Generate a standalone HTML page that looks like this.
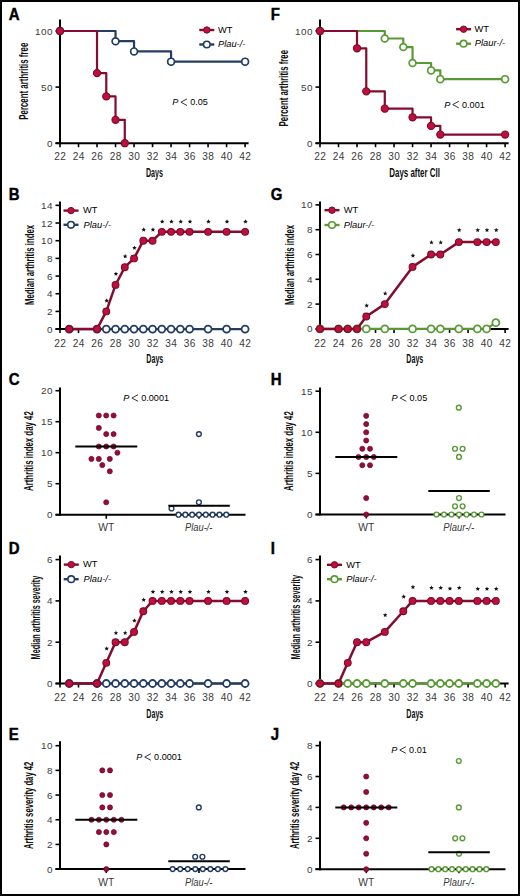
<!DOCTYPE html>
<html><head><meta charset="utf-8"><style>
html,body{margin:0;padding:0;background:#fff;}
body{width:520px;height:896px;overflow:hidden;}
svg{display:block;}
text{font-family:"Liberation Sans",sans-serif;}
</style></head><body>
<svg width="520" height="896" viewBox="0 0 520 896">
<rect width="520" height="896" fill="#fff"/>
<rect x="1" y="1" width="518" height="894" fill="none" stroke="#000" stroke-width="2"/>
<text transform="translate(8.7,19.7) scale(1,1.05)" font-size="15" font-weight="bold" fill="#000" stroke="#000" stroke-width="0.4">A</text>
<line x1="60" y1="19.5" x2="60" y2="144.2" stroke="#000" stroke-width="2" stroke-linecap="butt"/>
<line x1="55.5" y1="143.2" x2="60" y2="143.2" stroke="#000" stroke-width="1.6" stroke-linecap="butt"/>
<text x="52.85" y="146.74" font-size="9.9" text-anchor="end" fill="#3a3a3a" letter-spacing="0.45">0</text>
<line x1="55.5" y1="87.1" x2="60" y2="87.1" stroke="#000" stroke-width="1.6" stroke-linecap="butt"/>
<text x="52.85" y="90.64" font-size="9.9" text-anchor="end" fill="#3a3a3a" letter-spacing="0.45">50</text>
<line x1="55.5" y1="31" x2="60" y2="31" stroke="#000" stroke-width="1.6" stroke-linecap="butt"/>
<text x="52.85" y="34.54" font-size="9.9" text-anchor="end" fill="#3a3a3a" letter-spacing="0.45">100</text>
<line x1="55.5" y1="143.2" x2="248.6" y2="143.2" stroke="#000" stroke-width="2" stroke-linecap="butt"/>
<line x1="60" y1="143.2" x2="60" y2="147.2" stroke="#000" stroke-width="1.6" stroke-linecap="butt"/>
<text x="60.15" y="159.8" font-size="10.1" text-anchor="middle" fill="#3a3a3a" letter-spacing="0.3">22</text>
<line x1="78.51" y1="143.2" x2="78.51" y2="147.2" stroke="#000" stroke-width="1.6" stroke-linecap="butt"/>
<text x="78.66" y="159.8" font-size="10.1" text-anchor="middle" fill="#3a3a3a" letter-spacing="0.3">24</text>
<line x1="97.02" y1="143.2" x2="97.02" y2="147.2" stroke="#000" stroke-width="1.6" stroke-linecap="butt"/>
<text x="97.17" y="159.8" font-size="10.1" text-anchor="middle" fill="#3a3a3a" letter-spacing="0.3">26</text>
<line x1="115.53" y1="143.2" x2="115.53" y2="147.2" stroke="#000" stroke-width="1.6" stroke-linecap="butt"/>
<text x="115.68" y="159.8" font-size="10.1" text-anchor="middle" fill="#3a3a3a" letter-spacing="0.3">28</text>
<line x1="134.04" y1="143.2" x2="134.04" y2="147.2" stroke="#000" stroke-width="1.6" stroke-linecap="butt"/>
<text x="134.19" y="159.8" font-size="10.1" text-anchor="middle" fill="#3a3a3a" letter-spacing="0.3">30</text>
<line x1="152.55" y1="143.2" x2="152.55" y2="147.2" stroke="#000" stroke-width="1.6" stroke-linecap="butt"/>
<text x="152.7" y="159.8" font-size="10.1" text-anchor="middle" fill="#3a3a3a" letter-spacing="0.3">32</text>
<line x1="171.06" y1="143.2" x2="171.06" y2="147.2" stroke="#000" stroke-width="1.6" stroke-linecap="butt"/>
<text x="171.21" y="159.8" font-size="10.1" text-anchor="middle" fill="#3a3a3a" letter-spacing="0.3">34</text>
<line x1="189.57" y1="143.2" x2="189.57" y2="147.2" stroke="#000" stroke-width="1.6" stroke-linecap="butt"/>
<text x="189.72" y="159.8" font-size="10.1" text-anchor="middle" fill="#3a3a3a" letter-spacing="0.3">36</text>
<line x1="208.08" y1="143.2" x2="208.08" y2="147.2" stroke="#000" stroke-width="1.6" stroke-linecap="butt"/>
<text x="208.23" y="159.8" font-size="10.1" text-anchor="middle" fill="#3a3a3a" letter-spacing="0.3">38</text>
<line x1="226.59" y1="143.2" x2="226.59" y2="147.2" stroke="#000" stroke-width="1.6" stroke-linecap="butt"/>
<text x="226.74" y="159.8" font-size="10.1" text-anchor="middle" fill="#3a3a3a" letter-spacing="0.3">40</text>
<line x1="245.1" y1="143.2" x2="245.1" y2="147.2" stroke="#000" stroke-width="1.6" stroke-linecap="butt"/>
<text x="245.25" y="159.8" font-size="10.1" text-anchor="middle" fill="#3a3a3a" letter-spacing="0.3">42</text>
<polyline points="60,31 115.53,31 115.53,41.21 134.04,41.21 134.04,51.42 171.06,51.42 171.06,61.63 245.1,61.63 245.1,61.63" fill="none" stroke="#243d63" stroke-width="2.2" stroke-linejoin="round"/>
<circle cx="60" cy="31" r="3.4" fill="#fff" stroke="#243d63" stroke-width="1.7"/>
<circle cx="115.53" cy="41.21" r="3.4" fill="#fff" stroke="#243d63" stroke-width="1.7"/>
<circle cx="134.04" cy="51.42" r="3.4" fill="#fff" stroke="#243d63" stroke-width="1.7"/>
<circle cx="171.06" cy="61.63" r="3.4" fill="#fff" stroke="#243d63" stroke-width="1.7"/>
<circle cx="245.1" cy="61.63" r="3.4" fill="#fff" stroke="#243d63" stroke-width="1.7"/>
<polyline points="60,31 97.02,31 97.02,73.07 106.28,73.07 106.28,96.41 115.53,96.41 115.53,119.86 124.79,119.86 124.79,143.2" fill="none" stroke="#850b30" stroke-width="2.2" stroke-linejoin="round"/>
<circle cx="60" cy="31" r="3.6" fill="#bf0f3d" stroke="#7a0a2a" stroke-width="1.1"/>
<circle cx="97.02" cy="73.07" r="3.6" fill="#bf0f3d" stroke="#7a0a2a" stroke-width="1.1"/>
<circle cx="106.28" cy="96.41" r="3.6" fill="#bf0f3d" stroke="#7a0a2a" stroke-width="1.1"/>
<circle cx="115.53" cy="119.86" r="3.6" fill="#bf0f3d" stroke="#7a0a2a" stroke-width="1.1"/>
<circle cx="124.79" cy="143.2" r="3.6" fill="#bf0f3d" stroke="#7a0a2a" stroke-width="1.1"/>
<text transform="translate(28,81.2) rotate(-90)" font-size="12.2" text-anchor="middle" font-weight="bold" fill="#111" textLength="77" lengthAdjust="spacingAndGlyphs">Percent arthritis free</text>
<text x="154.4" y="176.5" font-size="12.2" text-anchor="middle" font-weight="bold" fill="#111" textLength="17" lengthAdjust="spacingAndGlyphs">Days</text>
<line x1="199.3" y1="30" x2="214.3" y2="30" stroke="#850b30" stroke-width="2.4" stroke-linecap="butt"/>
<circle cx="206.8" cy="30" r="3.2" fill="#bf0f3d" stroke="#7a0a2a" stroke-width="1"/>
<text x="218" y="32.75" font-size="9.3">WT</text>
<line x1="199.3" y1="44.5" x2="214.3" y2="44.5" stroke="#243d63" stroke-width="2.4" stroke-linecap="butt"/>
<circle cx="206.8" cy="44.5" r="3.3" fill="#fff" stroke="#243d63" stroke-width="1.6"/>
<text x="218" y="47.25" font-size="9.3" font-style="italic">Plau-/-</text>
<text x="172.3" y="105.4" font-size="9.1" font-style="italic">P</text>
<polyline points="187,98.9 180.9,102.2 187,105.5" fill="none" stroke="#2a2a2a" stroke-width="0.95"/>
<text x="190.2" y="105.4" font-size="9.1">0.05</text>
<text transform="translate(270.7,19.7) scale(1,1.05)" font-size="15" font-weight="bold" fill="#000" stroke="#000" stroke-width="0.4">F</text>
<line x1="320" y1="19.5" x2="320" y2="144.2" stroke="#000" stroke-width="2" stroke-linecap="butt"/>
<line x1="315.5" y1="143.2" x2="320" y2="143.2" stroke="#000" stroke-width="1.6" stroke-linecap="butt"/>
<text x="312.85" y="146.74" font-size="9.9" text-anchor="end" fill="#3a3a3a" letter-spacing="0.45">0</text>
<line x1="315.5" y1="87.1" x2="320" y2="87.1" stroke="#000" stroke-width="1.6" stroke-linecap="butt"/>
<text x="312.85" y="90.64" font-size="9.9" text-anchor="end" fill="#3a3a3a" letter-spacing="0.45">50</text>
<line x1="315.5" y1="31" x2="320" y2="31" stroke="#000" stroke-width="1.6" stroke-linecap="butt"/>
<text x="312.85" y="34.54" font-size="9.9" text-anchor="end" fill="#3a3a3a" letter-spacing="0.45">100</text>
<line x1="315.5" y1="143.2" x2="508.6" y2="143.2" stroke="#000" stroke-width="2" stroke-linecap="butt"/>
<line x1="320" y1="143.2" x2="320" y2="147.2" stroke="#000" stroke-width="1.6" stroke-linecap="butt"/>
<text x="320.15" y="159.8" font-size="10.1" text-anchor="middle" fill="#3a3a3a" letter-spacing="0.3">22</text>
<line x1="338.51" y1="143.2" x2="338.51" y2="147.2" stroke="#000" stroke-width="1.6" stroke-linecap="butt"/>
<text x="338.66" y="159.8" font-size="10.1" text-anchor="middle" fill="#3a3a3a" letter-spacing="0.3">24</text>
<line x1="357.02" y1="143.2" x2="357.02" y2="147.2" stroke="#000" stroke-width="1.6" stroke-linecap="butt"/>
<text x="357.17" y="159.8" font-size="10.1" text-anchor="middle" fill="#3a3a3a" letter-spacing="0.3">26</text>
<line x1="375.53" y1="143.2" x2="375.53" y2="147.2" stroke="#000" stroke-width="1.6" stroke-linecap="butt"/>
<text x="375.68" y="159.8" font-size="10.1" text-anchor="middle" fill="#3a3a3a" letter-spacing="0.3">28</text>
<line x1="394.04" y1="143.2" x2="394.04" y2="147.2" stroke="#000" stroke-width="1.6" stroke-linecap="butt"/>
<text x="394.19" y="159.8" font-size="10.1" text-anchor="middle" fill="#3a3a3a" letter-spacing="0.3">30</text>
<line x1="412.55" y1="143.2" x2="412.55" y2="147.2" stroke="#000" stroke-width="1.6" stroke-linecap="butt"/>
<text x="412.7" y="159.8" font-size="10.1" text-anchor="middle" fill="#3a3a3a" letter-spacing="0.3">32</text>
<line x1="431.06" y1="143.2" x2="431.06" y2="147.2" stroke="#000" stroke-width="1.6" stroke-linecap="butt"/>
<text x="431.21" y="159.8" font-size="10.1" text-anchor="middle" fill="#3a3a3a" letter-spacing="0.3">34</text>
<line x1="449.57" y1="143.2" x2="449.57" y2="147.2" stroke="#000" stroke-width="1.6" stroke-linecap="butt"/>
<text x="449.72" y="159.8" font-size="10.1" text-anchor="middle" fill="#3a3a3a" letter-spacing="0.3">36</text>
<line x1="468.08" y1="143.2" x2="468.08" y2="147.2" stroke="#000" stroke-width="1.6" stroke-linecap="butt"/>
<text x="468.23" y="159.8" font-size="10.1" text-anchor="middle" fill="#3a3a3a" letter-spacing="0.3">38</text>
<line x1="486.59" y1="143.2" x2="486.59" y2="147.2" stroke="#000" stroke-width="1.6" stroke-linecap="butt"/>
<text x="486.74" y="159.8" font-size="10.1" text-anchor="middle" fill="#3a3a3a" letter-spacing="0.3">40</text>
<line x1="505.1" y1="143.2" x2="505.1" y2="147.2" stroke="#000" stroke-width="1.6" stroke-linecap="butt"/>
<text x="505.25" y="159.8" font-size="10.1" text-anchor="middle" fill="#3a3a3a" letter-spacing="0.3">42</text>
<polyline points="320,31 384.79,31 384.79,38.52 403.3,38.52 403.3,47.04 412.55,47.04 412.55,62.98 431.06,62.98 431.06,70.38 440.31,70.38 440.31,79.13 505.1,79.13 505.1,79.13" fill="none" stroke="#5a9a36" stroke-width="2.2" stroke-linejoin="round"/>
<circle cx="320" cy="31" r="3.4" fill="#fff" stroke="#5a9a36" stroke-width="1.7"/>
<circle cx="384.79" cy="38.52" r="3.4" fill="#fff" stroke="#5a9a36" stroke-width="1.7"/>
<circle cx="403.3" cy="47.04" r="3.4" fill="#fff" stroke="#5a9a36" stroke-width="1.7"/>
<circle cx="412.55" cy="62.98" r="3.4" fill="#fff" stroke="#5a9a36" stroke-width="1.7"/>
<circle cx="431.06" cy="70.38" r="3.4" fill="#fff" stroke="#5a9a36" stroke-width="1.7"/>
<circle cx="440.31" cy="79.13" r="3.4" fill="#fff" stroke="#5a9a36" stroke-width="1.7"/>
<circle cx="505.1" cy="79.13" r="3.4" fill="#fff" stroke="#5a9a36" stroke-width="1.7"/>
<polyline points="320,31 357.02,31 357.02,48.28 366.27,48.28 366.27,91.36 384.79,91.36 384.79,108.64 412.55,108.64 412.55,117.28 431.06,117.28 431.06,125.92 440.31,125.92 440.31,134.56 505.1,134.56 505.1,134.56" fill="none" stroke="#850b30" stroke-width="2.2" stroke-linejoin="round"/>
<circle cx="320" cy="31" r="3.6" fill="#bf0f3d" stroke="#7a0a2a" stroke-width="1.1"/>
<circle cx="357.02" cy="48.28" r="3.6" fill="#bf0f3d" stroke="#7a0a2a" stroke-width="1.1"/>
<circle cx="366.27" cy="91.36" r="3.6" fill="#bf0f3d" stroke="#7a0a2a" stroke-width="1.1"/>
<circle cx="384.79" cy="108.64" r="3.6" fill="#bf0f3d" stroke="#7a0a2a" stroke-width="1.1"/>
<circle cx="412.55" cy="117.28" r="3.6" fill="#bf0f3d" stroke="#7a0a2a" stroke-width="1.1"/>
<circle cx="431.06" cy="125.92" r="3.6" fill="#bf0f3d" stroke="#7a0a2a" stroke-width="1.1"/>
<circle cx="440.31" cy="134.56" r="3.6" fill="#bf0f3d" stroke="#7a0a2a" stroke-width="1.1"/>
<circle cx="505.1" cy="134.56" r="3.6" fill="#bf0f3d" stroke="#7a0a2a" stroke-width="1.1"/>
<text transform="translate(288,88.2) rotate(-90)" font-size="12.2" text-anchor="middle" font-weight="bold" fill="#111" textLength="76.4" lengthAdjust="spacingAndGlyphs">Percent arthritis free</text>
<text x="414.6" y="176.5" font-size="12.2" text-anchor="middle" font-weight="bold" fill="#111" textLength="50.7" lengthAdjust="spacingAndGlyphs">Days after CII</text>
<line x1="456.1" y1="29.2" x2="471.1" y2="29.2" stroke="#850b30" stroke-width="2.4" stroke-linecap="butt"/>
<circle cx="463.6" cy="29.2" r="3.2" fill="#bf0f3d" stroke="#7a0a2a" stroke-width="1"/>
<text x="474.6" y="31.95" font-size="9.3">WT</text>
<line x1="456.1" y1="43.7" x2="471.1" y2="43.7" stroke="#5a9a36" stroke-width="2.4" stroke-linecap="butt"/>
<circle cx="463.6" cy="43.7" r="3.3" fill="#fff" stroke="#5a9a36" stroke-width="1.6"/>
<text x="474.8" y="46.45" font-size="9.3" font-style="italic">Plaur-/-</text>
<text x="444.3" y="107.8" font-size="9.1" font-style="italic">P</text>
<polyline points="458.8,101.3 452.7,104.6 458.8,107.9" fill="none" stroke="#2a2a2a" stroke-width="0.95"/>
<text x="462" y="107.8" font-size="9.1">0.001</text>
<text transform="translate(8.7,199.7) scale(1,1.05)" font-size="15" font-weight="bold" fill="#000" stroke="#000" stroke-width="0.4">B</text>
<line x1="60" y1="201.5" x2="60" y2="330.1" stroke="#000" stroke-width="2" stroke-linecap="butt"/>
<line x1="55.5" y1="329.1" x2="60" y2="329.1" stroke="#000" stroke-width="1.6" stroke-linecap="butt"/>
<text x="52.85" y="332.64" font-size="9.9" text-anchor="end" fill="#3a3a3a" letter-spacing="0.45">0</text>
<line x1="55.5" y1="311.42" x2="60" y2="311.42" stroke="#000" stroke-width="1.6" stroke-linecap="butt"/>
<text x="52.85" y="314.96" font-size="9.9" text-anchor="end" fill="#3a3a3a" letter-spacing="0.45">2</text>
<line x1="55.5" y1="293.74" x2="60" y2="293.74" stroke="#000" stroke-width="1.6" stroke-linecap="butt"/>
<text x="52.85" y="297.28" font-size="9.9" text-anchor="end" fill="#3a3a3a" letter-spacing="0.45">4</text>
<line x1="55.5" y1="276.06" x2="60" y2="276.06" stroke="#000" stroke-width="1.6" stroke-linecap="butt"/>
<text x="52.85" y="279.6" font-size="9.9" text-anchor="end" fill="#3a3a3a" letter-spacing="0.45">6</text>
<line x1="55.5" y1="258.38" x2="60" y2="258.38" stroke="#000" stroke-width="1.6" stroke-linecap="butt"/>
<text x="52.85" y="261.92" font-size="9.9" text-anchor="end" fill="#3a3a3a" letter-spacing="0.45">8</text>
<line x1="55.5" y1="240.7" x2="60" y2="240.7" stroke="#000" stroke-width="1.6" stroke-linecap="butt"/>
<text x="52.85" y="244.24" font-size="9.9" text-anchor="end" fill="#3a3a3a" letter-spacing="0.45">10</text>
<line x1="55.5" y1="223.02" x2="60" y2="223.02" stroke="#000" stroke-width="1.6" stroke-linecap="butt"/>
<text x="52.85" y="226.56" font-size="9.9" text-anchor="end" fill="#3a3a3a" letter-spacing="0.45">12</text>
<line x1="55.5" y1="205.34" x2="60" y2="205.34" stroke="#000" stroke-width="1.6" stroke-linecap="butt"/>
<text x="52.85" y="208.88" font-size="9.9" text-anchor="end" fill="#3a3a3a" letter-spacing="0.45">14</text>
<line x1="55.5" y1="329.1" x2="248.6" y2="329.1" stroke="#000" stroke-width="2" stroke-linecap="butt"/>
<line x1="60" y1="329.1" x2="60" y2="333.1" stroke="#000" stroke-width="1.6" stroke-linecap="butt"/>
<text x="60.15" y="346.6" font-size="10.1" text-anchor="middle" fill="#3a3a3a" letter-spacing="0.3">22</text>
<line x1="78.51" y1="329.1" x2="78.51" y2="333.1" stroke="#000" stroke-width="1.6" stroke-linecap="butt"/>
<text x="78.66" y="346.6" font-size="10.1" text-anchor="middle" fill="#3a3a3a" letter-spacing="0.3">24</text>
<line x1="97.02" y1="329.1" x2="97.02" y2="333.1" stroke="#000" stroke-width="1.6" stroke-linecap="butt"/>
<text x="97.17" y="346.6" font-size="10.1" text-anchor="middle" fill="#3a3a3a" letter-spacing="0.3">26</text>
<line x1="115.53" y1="329.1" x2="115.53" y2="333.1" stroke="#000" stroke-width="1.6" stroke-linecap="butt"/>
<text x="115.68" y="346.6" font-size="10.1" text-anchor="middle" fill="#3a3a3a" letter-spacing="0.3">28</text>
<line x1="134.04" y1="329.1" x2="134.04" y2="333.1" stroke="#000" stroke-width="1.6" stroke-linecap="butt"/>
<text x="134.19" y="346.6" font-size="10.1" text-anchor="middle" fill="#3a3a3a" letter-spacing="0.3">30</text>
<line x1="152.55" y1="329.1" x2="152.55" y2="333.1" stroke="#000" stroke-width="1.6" stroke-linecap="butt"/>
<text x="152.7" y="346.6" font-size="10.1" text-anchor="middle" fill="#3a3a3a" letter-spacing="0.3">32</text>
<line x1="171.06" y1="329.1" x2="171.06" y2="333.1" stroke="#000" stroke-width="1.6" stroke-linecap="butt"/>
<text x="171.21" y="346.6" font-size="10.1" text-anchor="middle" fill="#3a3a3a" letter-spacing="0.3">34</text>
<line x1="189.57" y1="329.1" x2="189.57" y2="333.1" stroke="#000" stroke-width="1.6" stroke-linecap="butt"/>
<text x="189.72" y="346.6" font-size="10.1" text-anchor="middle" fill="#3a3a3a" letter-spacing="0.3">36</text>
<line x1="208.08" y1="329.1" x2="208.08" y2="333.1" stroke="#000" stroke-width="1.6" stroke-linecap="butt"/>
<text x="208.23" y="346.6" font-size="10.1" text-anchor="middle" fill="#3a3a3a" letter-spacing="0.3">38</text>
<line x1="226.59" y1="329.1" x2="226.59" y2="333.1" stroke="#000" stroke-width="1.6" stroke-linecap="butt"/>
<text x="226.74" y="346.6" font-size="10.1" text-anchor="middle" fill="#3a3a3a" letter-spacing="0.3">40</text>
<line x1="245.1" y1="329.1" x2="245.1" y2="333.1" stroke="#000" stroke-width="1.6" stroke-linecap="butt"/>
<text x="245.25" y="346.6" font-size="10.1" text-anchor="middle" fill="#3a3a3a" letter-spacing="0.3">42</text>
<polyline points="69.25,329.1 97.02,329.1 106.28,329.1 115.53,329.1 124.79,329.1 134.04,329.1 143.3,329.1 152.55,329.1 161.81,329.1 171.06,329.1 180.31,329.1 189.57,329.1 208.08,329.1 226.59,329.1 245.1,329.1" fill="none" stroke="#243d63" stroke-width="2.2" stroke-linejoin="round"/>
<circle cx="69.25" cy="329.1" r="3.5" fill="#fff" stroke="#243d63" stroke-width="1.8"/>
<circle cx="97.02" cy="329.1" r="3.5" fill="#fff" stroke="#243d63" stroke-width="1.8"/>
<circle cx="106.28" cy="329.1" r="3.5" fill="#fff" stroke="#243d63" stroke-width="1.8"/>
<circle cx="115.53" cy="329.1" r="3.5" fill="#fff" stroke="#243d63" stroke-width="1.8"/>
<circle cx="124.79" cy="329.1" r="3.5" fill="#fff" stroke="#243d63" stroke-width="1.8"/>
<circle cx="134.04" cy="329.1" r="3.5" fill="#fff" stroke="#243d63" stroke-width="1.8"/>
<circle cx="143.3" cy="329.1" r="3.5" fill="#fff" stroke="#243d63" stroke-width="1.8"/>
<circle cx="152.55" cy="329.1" r="3.5" fill="#fff" stroke="#243d63" stroke-width="1.8"/>
<circle cx="161.81" cy="329.1" r="3.5" fill="#fff" stroke="#243d63" stroke-width="1.8"/>
<circle cx="171.06" cy="329.1" r="3.5" fill="#fff" stroke="#243d63" stroke-width="1.8"/>
<circle cx="180.31" cy="329.1" r="3.5" fill="#fff" stroke="#243d63" stroke-width="1.8"/>
<circle cx="189.57" cy="329.1" r="3.5" fill="#fff" stroke="#243d63" stroke-width="1.8"/>
<circle cx="208.08" cy="329.1" r="3.5" fill="#fff" stroke="#243d63" stroke-width="1.8"/>
<circle cx="226.59" cy="329.1" r="3.5" fill="#fff" stroke="#243d63" stroke-width="1.8"/>
<circle cx="245.1" cy="329.1" r="3.5" fill="#fff" stroke="#243d63" stroke-width="1.8"/>
<polyline points="69.25,329.1 97.02,329.1 106.28,311.42 115.53,284.9 124.79,267.22 134.04,258.38 143.3,240.7 152.55,240.7 161.81,231.86 171.06,231.86 180.31,231.86 189.57,231.86 208.08,231.86 226.59,231.86 245.1,231.86" fill="none" stroke="#850b30" stroke-width="2.5" stroke-linejoin="round"/>
<circle cx="69.25" cy="329.1" r="3.4" fill="#bf0f3d" stroke="#7a0a2a" stroke-width="1.1"/>
<circle cx="97.02" cy="329.1" r="3.4" fill="#bf0f3d" stroke="#7a0a2a" stroke-width="1.1"/>
<circle cx="106.28" cy="311.42" r="3.4" fill="#bf0f3d" stroke="#7a0a2a" stroke-width="1.1"/>
<circle cx="115.53" cy="284.9" r="3.4" fill="#bf0f3d" stroke="#7a0a2a" stroke-width="1.1"/>
<circle cx="124.79" cy="267.22" r="3.4" fill="#bf0f3d" stroke="#7a0a2a" stroke-width="1.1"/>
<circle cx="134.04" cy="258.38" r="3.4" fill="#bf0f3d" stroke="#7a0a2a" stroke-width="1.1"/>
<circle cx="143.3" cy="240.7" r="3.4" fill="#bf0f3d" stroke="#7a0a2a" stroke-width="1.1"/>
<circle cx="152.55" cy="240.7" r="3.4" fill="#bf0f3d" stroke="#7a0a2a" stroke-width="1.1"/>
<circle cx="161.81" cy="231.86" r="3.4" fill="#bf0f3d" stroke="#7a0a2a" stroke-width="1.1"/>
<circle cx="171.06" cy="231.86" r="3.4" fill="#bf0f3d" stroke="#7a0a2a" stroke-width="1.1"/>
<circle cx="180.31" cy="231.86" r="3.4" fill="#bf0f3d" stroke="#7a0a2a" stroke-width="1.1"/>
<circle cx="189.57" cy="231.86" r="3.4" fill="#bf0f3d" stroke="#7a0a2a" stroke-width="1.1"/>
<circle cx="208.08" cy="231.86" r="3.4" fill="#bf0f3d" stroke="#7a0a2a" stroke-width="1.1"/>
<circle cx="226.59" cy="231.86" r="3.4" fill="#bf0f3d" stroke="#7a0a2a" stroke-width="1.1"/>
<circle cx="245.1" cy="231.86" r="3.4" fill="#bf0f3d" stroke="#7a0a2a" stroke-width="1.1"/>
<polygon points="106.68,298.32 107.31,299.85 108.96,299.98 107.7,301.05 108.09,302.66 106.68,301.8 105.26,302.66 105.65,301.05 104.39,299.98 106.04,299.85" fill="#111"/>
<polygon points="115.93,271.5 116.56,273.03 118.21,273.16 116.96,274.23 117.34,275.84 115.93,274.98 114.52,275.84 114.9,274.23 113.65,273.16 115.3,273.03" fill="#111"/>
<polygon points="125.19,254.02 125.82,255.55 127.47,255.68 126.21,256.75 126.6,258.36 125.19,257.5 123.77,258.36 124.16,256.75 122.9,255.68 124.55,255.55" fill="#111"/>
<polygon points="134.44,245.48 135.07,247.01 136.72,247.14 135.47,248.21 135.85,249.82 134.44,248.96 133.03,249.82 133.41,248.21 132.16,247.14 133.81,247.01" fill="#111"/>
<polygon points="143.7,227.3 144.33,228.83 145.98,228.96 144.72,230.03 145.11,231.64 143.7,230.78 142.28,231.64 142.67,230.03 141.41,228.96 143.06,228.83" fill="#111"/>
<polygon points="152.95,227.3 153.58,228.83 155.23,228.96 153.98,230.03 154.36,231.64 152.95,230.78 151.54,231.64 151.92,230.03 150.67,228.96 152.32,228.83" fill="#111"/>
<polygon points="162.21,219.26 162.84,220.79 164.49,220.92 163.23,221.99 163.62,223.6 162.21,222.74 160.79,223.6 161.18,221.99 159.92,220.92 161.57,220.79" fill="#111"/>
<polygon points="171.46,219.26 172.09,220.79 173.74,220.92 172.49,221.99 172.87,223.6 171.46,222.74 170.05,223.6 170.43,221.99 169.18,220.92 170.83,220.79" fill="#111"/>
<polygon points="180.72,219.26 181.35,220.79 183,220.92 181.74,221.99 182.13,223.6 180.72,222.74 179.3,223.6 179.69,221.99 178.43,220.92 180.08,220.79" fill="#111"/>
<polygon points="189.97,219.26 190.6,220.79 192.25,220.92 191,221.99 191.38,223.6 189.97,222.74 188.56,223.6 188.94,221.99 187.69,220.92 189.34,220.79" fill="#111"/>
<polygon points="208.48,219.26 209.11,220.79 210.76,220.92 209.51,221.99 209.89,223.6 208.48,222.74 207.07,223.6 207.45,221.99 206.2,220.92 207.85,220.79" fill="#111"/>
<polygon points="226.99,219.26 227.62,220.79 229.27,220.92 228.02,221.99 228.4,223.6 226.99,222.74 225.58,223.6 225.96,221.99 224.71,220.92 226.36,220.79" fill="#111"/>
<polygon points="245.5,219.26 246.13,220.79 247.78,220.92 246.53,221.99 246.91,223.6 245.5,222.74 244.09,223.6 244.47,221.99 243.22,220.92 244.87,220.79" fill="#111"/>
<text transform="translate(34.2,265) rotate(-90)" font-size="12.2" text-anchor="middle" font-weight="bold" fill="#111" textLength="80" lengthAdjust="spacingAndGlyphs">Median arthritis index</text>
<text x="154.8" y="362.9" font-size="12.2" text-anchor="middle" font-weight="bold" fill="#111" textLength="17" lengthAdjust="spacingAndGlyphs">Days</text>
<line x1="63.5" y1="210.6" x2="78.5" y2="210.6" stroke="#850b30" stroke-width="2.4" stroke-linecap="butt"/>
<circle cx="71" cy="210.6" r="3.2" fill="#bf0f3d" stroke="#7a0a2a" stroke-width="1"/>
<text x="83" y="213.35" font-size="9.3">WT</text>
<line x1="63.5" y1="224.8" x2="78.5" y2="224.8" stroke="#243d63" stroke-width="2.4" stroke-linecap="butt"/>
<circle cx="71" cy="224.8" r="3.3" fill="#fff" stroke="#243d63" stroke-width="1.6"/>
<text x="83.6" y="227.55" font-size="9.3" font-style="italic">Plau-/-</text>
<text transform="translate(270.7,199.6) scale(1,1.05)" font-size="15" font-weight="bold" fill="#000" stroke="#000" stroke-width="0.4">G</text>
<line x1="320" y1="201.5" x2="320" y2="329.9" stroke="#000" stroke-width="2" stroke-linecap="butt"/>
<line x1="315.5" y1="328.9" x2="320" y2="328.9" stroke="#000" stroke-width="1.6" stroke-linecap="butt"/>
<text x="312.85" y="332.44" font-size="9.9" text-anchor="end" fill="#3a3a3a" letter-spacing="0.45">0</text>
<line x1="315.5" y1="304.1" x2="320" y2="304.1" stroke="#000" stroke-width="1.6" stroke-linecap="butt"/>
<text x="312.85" y="307.64" font-size="9.9" text-anchor="end" fill="#3a3a3a" letter-spacing="0.45">2</text>
<line x1="315.5" y1="279.3" x2="320" y2="279.3" stroke="#000" stroke-width="1.6" stroke-linecap="butt"/>
<text x="312.85" y="282.84" font-size="9.9" text-anchor="end" fill="#3a3a3a" letter-spacing="0.45">4</text>
<line x1="315.5" y1="254.5" x2="320" y2="254.5" stroke="#000" stroke-width="1.6" stroke-linecap="butt"/>
<text x="312.85" y="258.04" font-size="9.9" text-anchor="end" fill="#3a3a3a" letter-spacing="0.45">6</text>
<line x1="315.5" y1="229.7" x2="320" y2="229.7" stroke="#000" stroke-width="1.6" stroke-linecap="butt"/>
<text x="312.85" y="233.24" font-size="9.9" text-anchor="end" fill="#3a3a3a" letter-spacing="0.45">8</text>
<line x1="315.5" y1="204.9" x2="320" y2="204.9" stroke="#000" stroke-width="1.6" stroke-linecap="butt"/>
<text x="312.85" y="208.44" font-size="9.9" text-anchor="end" fill="#3a3a3a" letter-spacing="0.45">10</text>
<line x1="315.5" y1="328.9" x2="508.6" y2="328.9" stroke="#000" stroke-width="2" stroke-linecap="butt"/>
<line x1="320" y1="328.9" x2="320" y2="332.9" stroke="#000" stroke-width="1.6" stroke-linecap="butt"/>
<text x="320.15" y="346.6" font-size="10.1" text-anchor="middle" fill="#3a3a3a" letter-spacing="0.3">22</text>
<line x1="338.51" y1="328.9" x2="338.51" y2="332.9" stroke="#000" stroke-width="1.6" stroke-linecap="butt"/>
<text x="338.66" y="346.6" font-size="10.1" text-anchor="middle" fill="#3a3a3a" letter-spacing="0.3">24</text>
<line x1="357.02" y1="328.9" x2="357.02" y2="332.9" stroke="#000" stroke-width="1.6" stroke-linecap="butt"/>
<text x="357.17" y="346.6" font-size="10.1" text-anchor="middle" fill="#3a3a3a" letter-spacing="0.3">26</text>
<line x1="375.53" y1="328.9" x2="375.53" y2="332.9" stroke="#000" stroke-width="1.6" stroke-linecap="butt"/>
<text x="375.68" y="346.6" font-size="10.1" text-anchor="middle" fill="#3a3a3a" letter-spacing="0.3">28</text>
<line x1="394.04" y1="328.9" x2="394.04" y2="332.9" stroke="#000" stroke-width="1.6" stroke-linecap="butt"/>
<text x="394.19" y="346.6" font-size="10.1" text-anchor="middle" fill="#3a3a3a" letter-spacing="0.3">30</text>
<line x1="412.55" y1="328.9" x2="412.55" y2="332.9" stroke="#000" stroke-width="1.6" stroke-linecap="butt"/>
<text x="412.7" y="346.6" font-size="10.1" text-anchor="middle" fill="#3a3a3a" letter-spacing="0.3">32</text>
<line x1="431.06" y1="328.9" x2="431.06" y2="332.9" stroke="#000" stroke-width="1.6" stroke-linecap="butt"/>
<text x="431.21" y="346.6" font-size="10.1" text-anchor="middle" fill="#3a3a3a" letter-spacing="0.3">34</text>
<line x1="449.57" y1="328.9" x2="449.57" y2="332.9" stroke="#000" stroke-width="1.6" stroke-linecap="butt"/>
<text x="449.72" y="346.6" font-size="10.1" text-anchor="middle" fill="#3a3a3a" letter-spacing="0.3">36</text>
<line x1="468.08" y1="328.9" x2="468.08" y2="332.9" stroke="#000" stroke-width="1.6" stroke-linecap="butt"/>
<text x="468.23" y="346.6" font-size="10.1" text-anchor="middle" fill="#3a3a3a" letter-spacing="0.3">38</text>
<line x1="486.59" y1="328.9" x2="486.59" y2="332.9" stroke="#000" stroke-width="1.6" stroke-linecap="butt"/>
<text x="486.74" y="346.6" font-size="10.1" text-anchor="middle" fill="#3a3a3a" letter-spacing="0.3">40</text>
<line x1="505.1" y1="328.9" x2="505.1" y2="332.9" stroke="#000" stroke-width="1.6" stroke-linecap="butt"/>
<text x="505.25" y="346.6" font-size="10.1" text-anchor="middle" fill="#3a3a3a" letter-spacing="0.3">42</text>
<polyline points="320,328.9 338.51,328.9 347.76,328.9 357.02,328.9 366.27,328.9 384.79,328.9 412.55,328.9 431.06,328.9 440.31,328.9 458.83,328.9 477.34,328.9 486.59,328.9 495.85,322.7" fill="none" stroke="#5a9a36" stroke-width="2.2" stroke-linejoin="round"/>
<circle cx="320" cy="328.9" r="3.5" fill="#fff" stroke="#5a9a36" stroke-width="1.8"/>
<circle cx="338.51" cy="328.9" r="3.5" fill="#fff" stroke="#5a9a36" stroke-width="1.8"/>
<circle cx="347.76" cy="328.9" r="3.5" fill="#fff" stroke="#5a9a36" stroke-width="1.8"/>
<circle cx="357.02" cy="328.9" r="3.5" fill="#fff" stroke="#5a9a36" stroke-width="1.8"/>
<circle cx="366.27" cy="328.9" r="3.5" fill="#fff" stroke="#5a9a36" stroke-width="1.8"/>
<circle cx="384.79" cy="328.9" r="3.5" fill="#fff" stroke="#5a9a36" stroke-width="1.8"/>
<circle cx="412.55" cy="328.9" r="3.5" fill="#fff" stroke="#5a9a36" stroke-width="1.8"/>
<circle cx="431.06" cy="328.9" r="3.5" fill="#fff" stroke="#5a9a36" stroke-width="1.8"/>
<circle cx="440.31" cy="328.9" r="3.5" fill="#fff" stroke="#5a9a36" stroke-width="1.8"/>
<circle cx="458.83" cy="328.9" r="3.5" fill="#fff" stroke="#5a9a36" stroke-width="1.8"/>
<circle cx="477.34" cy="328.9" r="3.5" fill="#fff" stroke="#5a9a36" stroke-width="1.8"/>
<circle cx="486.59" cy="328.9" r="3.5" fill="#fff" stroke="#5a9a36" stroke-width="1.8"/>
<circle cx="495.85" cy="322.7" r="3.5" fill="#fff" stroke="#5a9a36" stroke-width="1.8"/>
<polyline points="320,328.9 338.51,328.9 347.76,328.9 357.02,328.9 366.27,316.5 384.79,304.1 412.55,266.9 431.06,254.5 440.31,254.5 458.83,242.1 477.34,242.1 486.59,242.1 495.85,242.1" fill="none" stroke="#850b30" stroke-width="2.5" stroke-linejoin="round"/>
<circle cx="320" cy="328.9" r="3.4" fill="#bf0f3d" stroke="#7a0a2a" stroke-width="1.1"/>
<circle cx="338.51" cy="328.9" r="3.4" fill="#bf0f3d" stroke="#7a0a2a" stroke-width="1.1"/>
<circle cx="347.76" cy="328.9" r="3.4" fill="#bf0f3d" stroke="#7a0a2a" stroke-width="1.1"/>
<circle cx="357.02" cy="328.9" r="3.4" fill="#bf0f3d" stroke="#7a0a2a" stroke-width="1.1"/>
<circle cx="366.27" cy="316.5" r="3.4" fill="#bf0f3d" stroke="#7a0a2a" stroke-width="1.1"/>
<circle cx="384.79" cy="304.1" r="3.4" fill="#bf0f3d" stroke="#7a0a2a" stroke-width="1.1"/>
<circle cx="412.55" cy="266.9" r="3.4" fill="#bf0f3d" stroke="#7a0a2a" stroke-width="1.1"/>
<circle cx="431.06" cy="254.5" r="3.4" fill="#bf0f3d" stroke="#7a0a2a" stroke-width="1.1"/>
<circle cx="440.31" cy="254.5" r="3.4" fill="#bf0f3d" stroke="#7a0a2a" stroke-width="1.1"/>
<circle cx="458.83" cy="242.1" r="3.4" fill="#bf0f3d" stroke="#7a0a2a" stroke-width="1.1"/>
<circle cx="477.34" cy="242.1" r="3.4" fill="#bf0f3d" stroke="#7a0a2a" stroke-width="1.1"/>
<circle cx="486.59" cy="242.1" r="3.4" fill="#bf0f3d" stroke="#7a0a2a" stroke-width="1.1"/>
<circle cx="495.85" cy="242.1" r="3.4" fill="#bf0f3d" stroke="#7a0a2a" stroke-width="1.1"/>
<polygon points="366.67,303.2 367.31,304.73 368.96,304.86 367.7,305.93 368.09,307.54 366.67,306.68 365.26,307.54 365.65,305.93 364.39,304.86 366.04,304.73" fill="#111"/>
<polygon points="385.19,291.1 385.82,292.63 387.47,292.76 386.21,293.83 386.6,295.44 385.19,294.58 383.77,295.44 384.16,293.83 382.9,292.76 384.55,292.63" fill="#111"/>
<polygon points="412.95,253.3 413.58,254.83 415.23,254.96 413.98,256.03 414.36,257.64 412.95,256.78 411.54,257.64 411.92,256.03 410.67,254.96 412.32,254.83" fill="#111"/>
<polygon points="431.46,240.1 432.09,241.63 433.74,241.76 432.49,242.83 432.87,244.44 431.46,243.58 430.05,244.44 430.43,242.83 429.18,241.76 430.83,241.63" fill="#111"/>
<polygon points="440.71,240.1 441.35,241.63 443,241.76 441.74,242.83 442.13,244.44 440.71,243.58 439.3,244.44 439.69,242.83 438.43,241.76 440.08,241.63" fill="#111"/>
<polygon points="459.23,227.7 459.86,229.23 461.51,229.36 460.25,230.43 460.64,232.04 459.23,231.18 457.81,232.04 458.2,230.43 456.94,229.36 458.59,229.23" fill="#111"/>
<polygon points="477.74,227.7 478.37,229.23 480.02,229.36 478.76,230.43 479.15,232.04 477.74,231.18 476.32,232.04 476.71,230.43 475.45,229.36 477.1,229.23" fill="#111"/>
<polygon points="486.99,227.7 487.62,229.23 489.27,229.36 488.02,230.43 488.4,232.04 486.99,231.18 485.58,232.04 485.96,230.43 484.71,229.36 486.36,229.23" fill="#111"/>
<polygon points="496.25,227.7 496.88,229.23 498.53,229.36 497.27,230.43 497.66,232.04 496.25,231.18 494.83,232.04 495.22,230.43 493.96,229.36 495.61,229.23" fill="#111"/>
<text transform="translate(294.2,265) rotate(-90)" font-size="12.2" text-anchor="middle" font-weight="bold" fill="#111" textLength="80" lengthAdjust="spacingAndGlyphs">Median arthritis index</text>
<text x="414.8" y="363" font-size="12.2" text-anchor="middle" font-weight="bold" fill="#111" textLength="17" lengthAdjust="spacingAndGlyphs">Days</text>
<line x1="324.5" y1="210.2" x2="339.5" y2="210.2" stroke="#850b30" stroke-width="2.4" stroke-linecap="butt"/>
<circle cx="332" cy="210.2" r="3.2" fill="#bf0f3d" stroke="#7a0a2a" stroke-width="1"/>
<text x="343.8" y="212.95" font-size="9.3">WT</text>
<line x1="324.5" y1="225" x2="339.5" y2="225" stroke="#5a9a36" stroke-width="2.4" stroke-linecap="butt"/>
<circle cx="332" cy="225" r="3.3" fill="#fff" stroke="#5a9a36" stroke-width="1.6"/>
<text x="343.8" y="227.75" font-size="9.3" font-style="italic">Plaur-/-</text>
<text transform="translate(8.7,553.9) scale(1,1.05)" font-size="15" font-weight="bold" fill="#000" stroke="#000" stroke-width="0.4">D</text>
<line x1="60" y1="555.5" x2="60" y2="684.5" stroke="#000" stroke-width="2" stroke-linecap="butt"/>
<line x1="55.5" y1="683.5" x2="60" y2="683.5" stroke="#000" stroke-width="1.6" stroke-linecap="butt"/>
<text x="52.85" y="687.04" font-size="9.9" text-anchor="end" fill="#3a3a3a" letter-spacing="0.45">0</text>
<line x1="55.5" y1="642.2" x2="60" y2="642.2" stroke="#000" stroke-width="1.6" stroke-linecap="butt"/>
<text x="52.85" y="645.74" font-size="9.9" text-anchor="end" fill="#3a3a3a" letter-spacing="0.45">2</text>
<line x1="55.5" y1="600.9" x2="60" y2="600.9" stroke="#000" stroke-width="1.6" stroke-linecap="butt"/>
<text x="52.85" y="604.44" font-size="9.9" text-anchor="end" fill="#3a3a3a" letter-spacing="0.45">4</text>
<line x1="55.5" y1="559.6" x2="60" y2="559.6" stroke="#000" stroke-width="1.6" stroke-linecap="butt"/>
<text x="52.85" y="563.14" font-size="9.9" text-anchor="end" fill="#3a3a3a" letter-spacing="0.45">6</text>
<line x1="55.5" y1="683.5" x2="248.6" y2="683.5" stroke="#000" stroke-width="2" stroke-linecap="butt"/>
<line x1="60" y1="683.5" x2="60" y2="687.5" stroke="#000" stroke-width="1.6" stroke-linecap="butt"/>
<text x="60.15" y="701.2" font-size="10.1" text-anchor="middle" fill="#3a3a3a" letter-spacing="0.3">22</text>
<line x1="78.51" y1="683.5" x2="78.51" y2="687.5" stroke="#000" stroke-width="1.6" stroke-linecap="butt"/>
<text x="78.66" y="701.2" font-size="10.1" text-anchor="middle" fill="#3a3a3a" letter-spacing="0.3">24</text>
<line x1="97.02" y1="683.5" x2="97.02" y2="687.5" stroke="#000" stroke-width="1.6" stroke-linecap="butt"/>
<text x="97.17" y="701.2" font-size="10.1" text-anchor="middle" fill="#3a3a3a" letter-spacing="0.3">26</text>
<line x1="115.53" y1="683.5" x2="115.53" y2="687.5" stroke="#000" stroke-width="1.6" stroke-linecap="butt"/>
<text x="115.68" y="701.2" font-size="10.1" text-anchor="middle" fill="#3a3a3a" letter-spacing="0.3">28</text>
<line x1="134.04" y1="683.5" x2="134.04" y2="687.5" stroke="#000" stroke-width="1.6" stroke-linecap="butt"/>
<text x="134.19" y="701.2" font-size="10.1" text-anchor="middle" fill="#3a3a3a" letter-spacing="0.3">30</text>
<line x1="152.55" y1="683.5" x2="152.55" y2="687.5" stroke="#000" stroke-width="1.6" stroke-linecap="butt"/>
<text x="152.7" y="701.2" font-size="10.1" text-anchor="middle" fill="#3a3a3a" letter-spacing="0.3">32</text>
<line x1="171.06" y1="683.5" x2="171.06" y2="687.5" stroke="#000" stroke-width="1.6" stroke-linecap="butt"/>
<text x="171.21" y="701.2" font-size="10.1" text-anchor="middle" fill="#3a3a3a" letter-spacing="0.3">34</text>
<line x1="189.57" y1="683.5" x2="189.57" y2="687.5" stroke="#000" stroke-width="1.6" stroke-linecap="butt"/>
<text x="189.72" y="701.2" font-size="10.1" text-anchor="middle" fill="#3a3a3a" letter-spacing="0.3">36</text>
<line x1="208.08" y1="683.5" x2="208.08" y2="687.5" stroke="#000" stroke-width="1.6" stroke-linecap="butt"/>
<text x="208.23" y="701.2" font-size="10.1" text-anchor="middle" fill="#3a3a3a" letter-spacing="0.3">38</text>
<line x1="226.59" y1="683.5" x2="226.59" y2="687.5" stroke="#000" stroke-width="1.6" stroke-linecap="butt"/>
<text x="226.74" y="701.2" font-size="10.1" text-anchor="middle" fill="#3a3a3a" letter-spacing="0.3">40</text>
<line x1="245.1" y1="683.5" x2="245.1" y2="687.5" stroke="#000" stroke-width="1.6" stroke-linecap="butt"/>
<text x="245.25" y="701.2" font-size="10.1" text-anchor="middle" fill="#3a3a3a" letter-spacing="0.3">42</text>
<polyline points="69.25,683.5 97.02,683.5 106.28,683.5 115.53,683.5 124.79,683.5 134.04,683.5 143.3,683.5 152.55,683.5 161.81,683.5 171.06,683.5 180.31,683.5 189.57,683.5 208.08,683.5 226.59,683.5 245.1,683.5" fill="none" stroke="#243d63" stroke-width="2.2" stroke-linejoin="round"/>
<circle cx="69.25" cy="683.5" r="3.5" fill="#fff" stroke="#243d63" stroke-width="1.8"/>
<circle cx="97.02" cy="683.5" r="3.5" fill="#fff" stroke="#243d63" stroke-width="1.8"/>
<circle cx="106.28" cy="683.5" r="3.5" fill="#fff" stroke="#243d63" stroke-width="1.8"/>
<circle cx="115.53" cy="683.5" r="3.5" fill="#fff" stroke="#243d63" stroke-width="1.8"/>
<circle cx="124.79" cy="683.5" r="3.5" fill="#fff" stroke="#243d63" stroke-width="1.8"/>
<circle cx="134.04" cy="683.5" r="3.5" fill="#fff" stroke="#243d63" stroke-width="1.8"/>
<circle cx="143.3" cy="683.5" r="3.5" fill="#fff" stroke="#243d63" stroke-width="1.8"/>
<circle cx="152.55" cy="683.5" r="3.5" fill="#fff" stroke="#243d63" stroke-width="1.8"/>
<circle cx="161.81" cy="683.5" r="3.5" fill="#fff" stroke="#243d63" stroke-width="1.8"/>
<circle cx="171.06" cy="683.5" r="3.5" fill="#fff" stroke="#243d63" stroke-width="1.8"/>
<circle cx="180.31" cy="683.5" r="3.5" fill="#fff" stroke="#243d63" stroke-width="1.8"/>
<circle cx="189.57" cy="683.5" r="3.5" fill="#fff" stroke="#243d63" stroke-width="1.8"/>
<circle cx="208.08" cy="683.5" r="3.5" fill="#fff" stroke="#243d63" stroke-width="1.8"/>
<circle cx="226.59" cy="683.5" r="3.5" fill="#fff" stroke="#243d63" stroke-width="1.8"/>
<circle cx="245.1" cy="683.5" r="3.5" fill="#fff" stroke="#243d63" stroke-width="1.8"/>
<polyline points="69.25,683.5 97.02,683.5 106.28,662.85 115.53,642.2 124.79,642.2 134.04,631.88 143.3,611.23 152.55,600.9 161.81,600.9 171.06,600.9 180.31,600.9 189.57,600.9 208.08,600.9 226.59,600.9 245.1,600.9" fill="none" stroke="#850b30" stroke-width="2.5" stroke-linejoin="round"/>
<circle cx="69.25" cy="683.5" r="3.4" fill="#bf0f3d" stroke="#7a0a2a" stroke-width="1.1"/>
<circle cx="97.02" cy="683.5" r="3.4" fill="#bf0f3d" stroke="#7a0a2a" stroke-width="1.1"/>
<circle cx="106.28" cy="662.85" r="3.4" fill="#bf0f3d" stroke="#7a0a2a" stroke-width="1.1"/>
<circle cx="115.53" cy="642.2" r="3.4" fill="#bf0f3d" stroke="#7a0a2a" stroke-width="1.1"/>
<circle cx="124.79" cy="642.2" r="3.4" fill="#bf0f3d" stroke="#7a0a2a" stroke-width="1.1"/>
<circle cx="134.04" cy="631.88" r="3.4" fill="#bf0f3d" stroke="#7a0a2a" stroke-width="1.1"/>
<circle cx="143.3" cy="611.23" r="3.4" fill="#bf0f3d" stroke="#7a0a2a" stroke-width="1.1"/>
<circle cx="152.55" cy="600.9" r="3.4" fill="#bf0f3d" stroke="#7a0a2a" stroke-width="1.1"/>
<circle cx="161.81" cy="600.9" r="3.4" fill="#bf0f3d" stroke="#7a0a2a" stroke-width="1.1"/>
<circle cx="171.06" cy="600.9" r="3.4" fill="#bf0f3d" stroke="#7a0a2a" stroke-width="1.1"/>
<circle cx="180.31" cy="600.9" r="3.4" fill="#bf0f3d" stroke="#7a0a2a" stroke-width="1.1"/>
<circle cx="189.57" cy="600.9" r="3.4" fill="#bf0f3d" stroke="#7a0a2a" stroke-width="1.1"/>
<circle cx="208.08" cy="600.9" r="3.4" fill="#bf0f3d" stroke="#7a0a2a" stroke-width="1.1"/>
<circle cx="226.59" cy="600.9" r="3.4" fill="#bf0f3d" stroke="#7a0a2a" stroke-width="1.1"/>
<circle cx="245.1" cy="600.9" r="3.4" fill="#bf0f3d" stroke="#7a0a2a" stroke-width="1.1"/>
<polygon points="106.68,646.15 107.31,647.68 108.96,647.81 107.7,648.88 108.09,650.49 106.68,649.63 105.26,650.49 105.65,648.88 104.39,647.81 106.04,647.68" fill="#111"/>
<polygon points="115.93,630.6 116.56,632.13 118.21,632.26 116.96,633.33 117.34,634.94 115.93,634.08 114.52,634.94 114.9,633.33 113.65,632.26 115.3,632.13" fill="#111"/>
<polygon points="125.19,630.6 125.82,632.13 127.47,632.26 126.21,633.33 126.6,634.94 125.19,634.08 123.77,634.94 124.16,633.33 122.9,632.26 124.55,632.13" fill="#111"/>
<polygon points="134.44,618.27 135.07,619.8 136.72,619.93 135.47,621.01 135.85,622.62 134.44,621.75 133.03,622.62 133.41,621.01 132.16,619.93 133.81,619.8" fill="#111"/>
<polygon points="143.7,597.53 144.33,599.05 145.98,599.18 144.72,600.26 145.11,601.87 143.7,601.01 142.28,601.87 142.67,600.26 141.41,599.18 143.06,599.05" fill="#111"/>
<polygon points="152.95,589.4 153.58,590.93 155.23,591.06 153.98,592.13 154.36,593.74 152.95,592.88 151.54,593.74 151.92,592.13 150.67,591.06 152.32,590.93" fill="#111"/>
<polygon points="162.21,589.4 162.84,590.93 164.49,591.06 163.23,592.13 163.62,593.74 162.21,592.88 160.79,593.74 161.18,592.13 159.92,591.06 161.57,590.93" fill="#111"/>
<polygon points="171.46,589.4 172.09,590.93 173.74,591.06 172.49,592.13 172.87,593.74 171.46,592.88 170.05,593.74 170.43,592.13 169.18,591.06 170.83,590.93" fill="#111"/>
<polygon points="180.72,589.4 181.35,590.93 183,591.06 181.74,592.13 182.13,593.74 180.72,592.88 179.3,593.74 179.69,592.13 178.43,591.06 180.08,590.93" fill="#111"/>
<polygon points="189.97,589.4 190.6,590.93 192.25,591.06 191,592.13 191.38,593.74 189.97,592.88 188.56,593.74 188.94,592.13 187.69,591.06 189.34,590.93" fill="#111"/>
<polygon points="208.48,589.4 209.11,590.93 210.76,591.06 209.51,592.13 209.89,593.74 208.48,592.88 207.07,593.74 207.45,592.13 206.2,591.06 207.85,590.93" fill="#111"/>
<polygon points="226.99,589.4 227.62,590.93 229.27,591.06 228.02,592.13 228.4,593.74 226.99,592.88 225.58,593.74 225.96,592.13 224.71,591.06 226.36,590.93" fill="#111"/>
<polygon points="245.5,589.4 246.13,590.93 247.78,591.06 246.53,592.13 246.91,593.74 245.5,592.88 244.09,593.74 244.47,592.13 243.22,591.06 244.87,590.93" fill="#111"/>
<text transform="translate(39.8,617.6) rotate(-90)" font-size="12.2" text-anchor="middle" font-weight="bold" fill="#111" textLength="83.6" lengthAdjust="spacingAndGlyphs">Median arthritis severity</text>
<text x="154.8" y="717.8" font-size="12.2" text-anchor="middle" font-weight="bold" fill="#111" textLength="17" lengthAdjust="spacingAndGlyphs">Days</text>
<line x1="63.8" y1="564.6" x2="78.8" y2="564.6" stroke="#850b30" stroke-width="2.4" stroke-linecap="butt"/>
<circle cx="71.3" cy="564.6" r="3.2" fill="#bf0f3d" stroke="#7a0a2a" stroke-width="1"/>
<text x="83" y="567.35" font-size="9.3">WT</text>
<line x1="63.7" y1="579.2" x2="78.7" y2="579.2" stroke="#243d63" stroke-width="2.4" stroke-linecap="butt"/>
<circle cx="71.2" cy="579.2" r="3.3" fill="#fff" stroke="#243d63" stroke-width="1.6"/>
<text x="83.6" y="581.95" font-size="9.3" font-style="italic">Plau-/-</text>
<text transform="translate(270.7,553.9) scale(1,1.05)" font-size="15" font-weight="bold" fill="#000" stroke="#000" stroke-width="0.4">I</text>
<line x1="320" y1="555.5" x2="320" y2="684.5" stroke="#000" stroke-width="2" stroke-linecap="butt"/>
<line x1="315.5" y1="683.5" x2="320" y2="683.5" stroke="#000" stroke-width="1.6" stroke-linecap="butt"/>
<text x="312.85" y="687.04" font-size="9.9" text-anchor="end" fill="#3a3a3a" letter-spacing="0.45">0</text>
<line x1="315.5" y1="642.2" x2="320" y2="642.2" stroke="#000" stroke-width="1.6" stroke-linecap="butt"/>
<text x="312.85" y="645.74" font-size="9.9" text-anchor="end" fill="#3a3a3a" letter-spacing="0.45">2</text>
<line x1="315.5" y1="600.9" x2="320" y2="600.9" stroke="#000" stroke-width="1.6" stroke-linecap="butt"/>
<text x="312.85" y="604.44" font-size="9.9" text-anchor="end" fill="#3a3a3a" letter-spacing="0.45">4</text>
<line x1="315.5" y1="559.6" x2="320" y2="559.6" stroke="#000" stroke-width="1.6" stroke-linecap="butt"/>
<text x="312.85" y="563.14" font-size="9.9" text-anchor="end" fill="#3a3a3a" letter-spacing="0.45">6</text>
<line x1="315.5" y1="683.5" x2="508.6" y2="683.5" stroke="#000" stroke-width="2" stroke-linecap="butt"/>
<line x1="320" y1="683.5" x2="320" y2="687.5" stroke="#000" stroke-width="1.6" stroke-linecap="butt"/>
<text x="320.15" y="701.2" font-size="10.1" text-anchor="middle" fill="#3a3a3a" letter-spacing="0.3">22</text>
<line x1="338.51" y1="683.5" x2="338.51" y2="687.5" stroke="#000" stroke-width="1.6" stroke-linecap="butt"/>
<text x="338.66" y="701.2" font-size="10.1" text-anchor="middle" fill="#3a3a3a" letter-spacing="0.3">24</text>
<line x1="357.02" y1="683.5" x2="357.02" y2="687.5" stroke="#000" stroke-width="1.6" stroke-linecap="butt"/>
<text x="357.17" y="701.2" font-size="10.1" text-anchor="middle" fill="#3a3a3a" letter-spacing="0.3">26</text>
<line x1="375.53" y1="683.5" x2="375.53" y2="687.5" stroke="#000" stroke-width="1.6" stroke-linecap="butt"/>
<text x="375.68" y="701.2" font-size="10.1" text-anchor="middle" fill="#3a3a3a" letter-spacing="0.3">28</text>
<line x1="394.04" y1="683.5" x2="394.04" y2="687.5" stroke="#000" stroke-width="1.6" stroke-linecap="butt"/>
<text x="394.19" y="701.2" font-size="10.1" text-anchor="middle" fill="#3a3a3a" letter-spacing="0.3">30</text>
<line x1="412.55" y1="683.5" x2="412.55" y2="687.5" stroke="#000" stroke-width="1.6" stroke-linecap="butt"/>
<text x="412.7" y="701.2" font-size="10.1" text-anchor="middle" fill="#3a3a3a" letter-spacing="0.3">32</text>
<line x1="431.06" y1="683.5" x2="431.06" y2="687.5" stroke="#000" stroke-width="1.6" stroke-linecap="butt"/>
<text x="431.21" y="701.2" font-size="10.1" text-anchor="middle" fill="#3a3a3a" letter-spacing="0.3">34</text>
<line x1="449.57" y1="683.5" x2="449.57" y2="687.5" stroke="#000" stroke-width="1.6" stroke-linecap="butt"/>
<text x="449.72" y="701.2" font-size="10.1" text-anchor="middle" fill="#3a3a3a" letter-spacing="0.3">36</text>
<line x1="468.08" y1="683.5" x2="468.08" y2="687.5" stroke="#000" stroke-width="1.6" stroke-linecap="butt"/>
<text x="468.23" y="701.2" font-size="10.1" text-anchor="middle" fill="#3a3a3a" letter-spacing="0.3">38</text>
<line x1="486.59" y1="683.5" x2="486.59" y2="687.5" stroke="#000" stroke-width="1.6" stroke-linecap="butt"/>
<text x="486.74" y="701.2" font-size="10.1" text-anchor="middle" fill="#3a3a3a" letter-spacing="0.3">40</text>
<line x1="505.1" y1="683.5" x2="505.1" y2="687.5" stroke="#000" stroke-width="1.6" stroke-linecap="butt"/>
<text x="505.25" y="701.2" font-size="10.1" text-anchor="middle" fill="#3a3a3a" letter-spacing="0.3">42</text>
<polyline points="320,683.5 338.51,683.5 347.76,683.5 357.02,683.5 366.27,683.5 384.79,683.5 403.3,683.5 412.55,683.5 431.06,683.5 440.31,683.5 449.57,683.5 458.83,683.5 477.34,683.5 486.59,683.5 495.85,683.5" fill="none" stroke="#5a9a36" stroke-width="2.2" stroke-linejoin="round"/>
<circle cx="320" cy="683.5" r="3.5" fill="#fff" stroke="#5a9a36" stroke-width="1.8"/>
<circle cx="338.51" cy="683.5" r="3.5" fill="#fff" stroke="#5a9a36" stroke-width="1.8"/>
<circle cx="347.76" cy="683.5" r="3.5" fill="#fff" stroke="#5a9a36" stroke-width="1.8"/>
<circle cx="357.02" cy="683.5" r="3.5" fill="#fff" stroke="#5a9a36" stroke-width="1.8"/>
<circle cx="366.27" cy="683.5" r="3.5" fill="#fff" stroke="#5a9a36" stroke-width="1.8"/>
<circle cx="384.79" cy="683.5" r="3.5" fill="#fff" stroke="#5a9a36" stroke-width="1.8"/>
<circle cx="403.3" cy="683.5" r="3.5" fill="#fff" stroke="#5a9a36" stroke-width="1.8"/>
<circle cx="412.55" cy="683.5" r="3.5" fill="#fff" stroke="#5a9a36" stroke-width="1.8"/>
<circle cx="431.06" cy="683.5" r="3.5" fill="#fff" stroke="#5a9a36" stroke-width="1.8"/>
<circle cx="440.31" cy="683.5" r="3.5" fill="#fff" stroke="#5a9a36" stroke-width="1.8"/>
<circle cx="449.57" cy="683.5" r="3.5" fill="#fff" stroke="#5a9a36" stroke-width="1.8"/>
<circle cx="458.83" cy="683.5" r="3.5" fill="#fff" stroke="#5a9a36" stroke-width="1.8"/>
<circle cx="477.34" cy="683.5" r="3.5" fill="#fff" stroke="#5a9a36" stroke-width="1.8"/>
<circle cx="486.59" cy="683.5" r="3.5" fill="#fff" stroke="#5a9a36" stroke-width="1.8"/>
<circle cx="495.85" cy="683.5" r="3.5" fill="#fff" stroke="#5a9a36" stroke-width="1.8"/>
<polyline points="320,683.5 338.51,683.5 347.76,662.85 357.02,642.2 366.27,642.2 384.79,631.88 403.3,611.23 412.55,600.9 431.06,600.9 440.31,600.9 449.57,600.9 458.83,600.9 477.34,600.9 486.59,600.9 495.85,600.9" fill="none" stroke="#850b30" stroke-width="2.5" stroke-linejoin="round"/>
<circle cx="320" cy="683.5" r="3.4" fill="#bf0f3d" stroke="#7a0a2a" stroke-width="1.1"/>
<circle cx="338.51" cy="683.5" r="3.4" fill="#bf0f3d" stroke="#7a0a2a" stroke-width="1.1"/>
<circle cx="347.76" cy="662.85" r="3.4" fill="#bf0f3d" stroke="#7a0a2a" stroke-width="1.1"/>
<circle cx="357.02" cy="642.2" r="3.4" fill="#bf0f3d" stroke="#7a0a2a" stroke-width="1.1"/>
<circle cx="366.27" cy="642.2" r="3.4" fill="#bf0f3d" stroke="#7a0a2a" stroke-width="1.1"/>
<circle cx="384.79" cy="631.88" r="3.4" fill="#bf0f3d" stroke="#7a0a2a" stroke-width="1.1"/>
<circle cx="403.3" cy="611.23" r="3.4" fill="#bf0f3d" stroke="#7a0a2a" stroke-width="1.1"/>
<circle cx="412.55" cy="600.9" r="3.4" fill="#bf0f3d" stroke="#7a0a2a" stroke-width="1.1"/>
<circle cx="431.06" cy="600.9" r="3.4" fill="#bf0f3d" stroke="#7a0a2a" stroke-width="1.1"/>
<circle cx="440.31" cy="600.9" r="3.4" fill="#bf0f3d" stroke="#7a0a2a" stroke-width="1.1"/>
<circle cx="449.57" cy="600.9" r="3.4" fill="#bf0f3d" stroke="#7a0a2a" stroke-width="1.1"/>
<circle cx="458.83" cy="600.9" r="3.4" fill="#bf0f3d" stroke="#7a0a2a" stroke-width="1.1"/>
<circle cx="477.34" cy="600.9" r="3.4" fill="#bf0f3d" stroke="#7a0a2a" stroke-width="1.1"/>
<circle cx="486.59" cy="600.9" r="3.4" fill="#bf0f3d" stroke="#7a0a2a" stroke-width="1.1"/>
<circle cx="495.85" cy="600.9" r="3.4" fill="#bf0f3d" stroke="#7a0a2a" stroke-width="1.1"/>
<polygon points="385.19,612.68 385.82,614.2 387.47,614.33 386.21,615.41 386.6,617.02 385.19,616.16 383.77,617.02 384.16,615.41 382.9,614.33 384.55,614.2" fill="#111"/>
<polygon points="403.69,594.33 404.33,595.85 405.98,595.98 404.72,597.06 405.11,598.67 403.69,597.81 402.28,598.67 402.67,597.06 401.41,595.98 403.06,595.85" fill="#111"/>
<polygon points="412.95,584.7 413.58,586.23 415.23,586.36 413.98,587.43 414.36,589.04 412.95,588.18 411.54,589.04 411.92,587.43 410.67,586.36 412.32,586.23" fill="#111"/>
<polygon points="431.46,585.4 432.09,586.93 433.74,587.06 432.49,588.13 432.87,589.74 431.46,588.88 430.05,589.74 430.43,588.13 429.18,587.06 430.83,586.93" fill="#111"/>
<polygon points="440.71,585.4 441.35,586.93 443,587.06 441.74,588.13 442.13,589.74 440.71,588.88 439.3,589.74 439.69,588.13 438.43,587.06 440.08,586.93" fill="#111"/>
<polygon points="449.97,586.2 450.6,587.73 452.25,587.86 451,588.93 451.38,590.54 449.97,589.68 448.56,590.54 448.94,588.93 447.69,587.86 449.34,587.73" fill="#111"/>
<polygon points="459.23,585.4 459.86,586.93 461.51,587.06 460.25,588.13 460.64,589.74 459.23,588.88 457.81,589.74 458.2,588.13 456.94,587.06 458.59,586.93" fill="#111"/>
<polygon points="477.74,586.5 478.37,588.03 480.02,588.16 478.76,589.23 479.15,590.84 477.74,589.98 476.32,590.84 476.71,589.23 475.45,588.16 477.1,588.03" fill="#111"/>
<polygon points="486.99,586.5 487.62,588.03 489.27,588.16 488.02,589.23 488.4,590.84 486.99,589.98 485.58,590.84 485.96,589.23 484.71,588.16 486.36,588.03" fill="#111"/>
<polygon points="496.25,586.5 496.88,588.03 498.53,588.16 497.27,589.23 497.66,590.84 496.25,589.98 494.83,590.84 495.22,589.23 493.96,588.16 495.61,588.03" fill="#111"/>
<text transform="translate(299.8,617.2) rotate(-90)" font-size="12.2" text-anchor="middle" font-weight="bold" fill="#111" textLength="84.4" lengthAdjust="spacingAndGlyphs">Median arthritis severity</text>
<text x="414.8" y="717.8" font-size="12.2" text-anchor="middle" font-weight="bold" fill="#111" textLength="17" lengthAdjust="spacingAndGlyphs">Days</text>
<line x1="327" y1="564.8" x2="342" y2="564.8" stroke="#850b30" stroke-width="2.4" stroke-linecap="butt"/>
<circle cx="334.5" cy="564.8" r="3.2" fill="#bf0f3d" stroke="#7a0a2a" stroke-width="1"/>
<text x="346.3" y="567.55" font-size="9.3">WT</text>
<line x1="327" y1="579.2" x2="342" y2="579.2" stroke="#5a9a36" stroke-width="2.4" stroke-linecap="butt"/>
<circle cx="334.5" cy="579.2" r="3.3" fill="#fff" stroke="#5a9a36" stroke-width="1.6"/>
<text x="346.3" y="581.95" font-size="9.3" font-style="italic">Plaur-/-</text>
<text transform="translate(8.7,385.2) scale(1,1.05)" font-size="15" font-weight="bold" fill="#000" stroke="#000" stroke-width="0.4">C</text>
<line x1="60" y1="387.5" x2="60" y2="515.7" stroke="#000" stroke-width="2" stroke-linecap="butt"/>
<line x1="55.5" y1="514.7" x2="60" y2="514.7" stroke="#000" stroke-width="1.6" stroke-linecap="butt"/>
<text x="52.85" y="518.24" font-size="9.9" text-anchor="end" fill="#3a3a3a" letter-spacing="0.45">0</text>
<line x1="55.5" y1="483.7" x2="60" y2="483.7" stroke="#000" stroke-width="1.6" stroke-linecap="butt"/>
<text x="52.85" y="487.24" font-size="9.9" text-anchor="end" fill="#3a3a3a" letter-spacing="0.45">5</text>
<line x1="55.5" y1="452.7" x2="60" y2="452.7" stroke="#000" stroke-width="1.6" stroke-linecap="butt"/>
<text x="52.85" y="456.24" font-size="9.9" text-anchor="end" fill="#3a3a3a" letter-spacing="0.45">10</text>
<line x1="55.5" y1="421.7" x2="60" y2="421.7" stroke="#000" stroke-width="1.6" stroke-linecap="butt"/>
<text x="52.85" y="425.24" font-size="9.9" text-anchor="end" fill="#3a3a3a" letter-spacing="0.45">15</text>
<line x1="55.5" y1="390.7" x2="60" y2="390.7" stroke="#000" stroke-width="1.6" stroke-linecap="butt"/>
<text x="52.85" y="394.24" font-size="9.9" text-anchor="end" fill="#3a3a3a" letter-spacing="0.45">20</text>
<line x1="55.5" y1="514.7" x2="245.5" y2="514.7" stroke="#000" stroke-width="2" stroke-linecap="butt"/>
<line x1="106.3" y1="514.7" x2="106.3" y2="518.7" stroke="#000" stroke-width="1.6" stroke-linecap="butt"/>
<line x1="199" y1="514.7" x2="199" y2="518.7" stroke="#000" stroke-width="1.6" stroke-linecap="butt"/>
<circle cx="98.8" cy="415.5" r="2.55" fill="#950d38" stroke="#6e0828" stroke-width="0.7"/>
<circle cx="106.2" cy="415.5" r="2.55" fill="#950d38" stroke="#6e0828" stroke-width="0.7"/>
<circle cx="113.6" cy="415.5" r="2.55" fill="#950d38" stroke="#6e0828" stroke-width="0.7"/>
<circle cx="98.8" cy="427.9" r="2.55" fill="#950d38" stroke="#6e0828" stroke-width="0.7"/>
<circle cx="106.2" cy="434.1" r="2.55" fill="#950d38" stroke="#6e0828" stroke-width="0.7"/>
<circle cx="113.6" cy="434.1" r="2.55" fill="#950d38" stroke="#6e0828" stroke-width="0.7"/>
<circle cx="98.8" cy="446.5" r="2.55" fill="#950d38" stroke="#6e0828" stroke-width="0.7"/>
<circle cx="106.2" cy="446.5" r="2.55" fill="#950d38" stroke="#6e0828" stroke-width="0.7"/>
<circle cx="113.6" cy="446.5" r="2.55" fill="#950d38" stroke="#6e0828" stroke-width="0.7"/>
<circle cx="117.4" cy="452.7" r="2.55" fill="#950d38" stroke="#6e0828" stroke-width="0.7"/>
<circle cx="91.4" cy="458.9" r="2.55" fill="#950d38" stroke="#6e0828" stroke-width="0.7"/>
<circle cx="98.8" cy="458.9" r="2.55" fill="#950d38" stroke="#6e0828" stroke-width="0.7"/>
<circle cx="109.8" cy="458.9" r="2.55" fill="#950d38" stroke="#6e0828" stroke-width="0.7"/>
<circle cx="102.3" cy="465.1" r="2.55" fill="#950d38" stroke="#6e0828" stroke-width="0.7"/>
<circle cx="109.8" cy="471.3" r="2.55" fill="#950d38" stroke="#6e0828" stroke-width="0.7"/>
<circle cx="106.2" cy="502.3" r="2.55" fill="#950d38" stroke="#6e0828" stroke-width="0.7"/>
<circle cx="198.9" cy="434.1" r="2.4" fill="#fff" stroke="#243d63" stroke-width="1.4"/>
<circle cx="198.9" cy="502.3" r="2.4" fill="#fff" stroke="#243d63" stroke-width="1.4"/>
<circle cx="171.5" cy="508.5" r="2.4" fill="#fff" stroke="#243d63" stroke-width="1.4"/>
<circle cx="178.5" cy="514.7" r="2.4" fill="#fff" stroke="#243d63" stroke-width="1.4"/>
<circle cx="185.32" cy="514.7" r="2.4" fill="#fff" stroke="#243d63" stroke-width="1.4"/>
<circle cx="192.14" cy="514.7" r="2.4" fill="#fff" stroke="#243d63" stroke-width="1.4"/>
<circle cx="198.96" cy="514.7" r="2.4" fill="#fff" stroke="#243d63" stroke-width="1.4"/>
<circle cx="205.78" cy="514.7" r="2.4" fill="#fff" stroke="#243d63" stroke-width="1.4"/>
<circle cx="212.6" cy="514.7" r="2.4" fill="#fff" stroke="#243d63" stroke-width="1.4"/>
<circle cx="219.42" cy="514.7" r="2.4" fill="#fff" stroke="#243d63" stroke-width="1.4"/>
<circle cx="226.24" cy="514.7" r="2.4" fill="#fff" stroke="#243d63" stroke-width="1.4"/>
<line x1="75.3" y1="446.5" x2="137.3" y2="446.5" stroke="#000" stroke-width="2" stroke-linecap="butt"/>
<line x1="168.3" y1="505.71" x2="229.8" y2="505.71" stroke="#000" stroke-width="2" stroke-linecap="butt"/>
<text x="106.3" y="531.3" font-size="10.3" text-anchor="middle" fill="#3a3a3a">WT</text>
<text x="198.7" y="531.3" font-size="10.3" text-anchor="middle" font-style="italic" fill="#3a3a3a" textLength="27.6" lengthAdjust="spacingAndGlyphs">Plau-/-</text>
<text transform="translate(33.4,451.1) rotate(-90)" font-size="12.2" text-anchor="middle" font-weight="bold" fill="#111" textLength="79.8" lengthAdjust="spacingAndGlyphs">Arthritis index day 42</text>
<text x="123.3" y="401.2" font-size="9.1" font-style="italic">P</text>
<polyline points="138,394.7 131.9,398 138,401.3" fill="none" stroke="#2a2a2a" stroke-width="0.95"/>
<text x="141.2" y="401.2" font-size="9.1">0.0001</text>
<text transform="translate(270.7,385.4) scale(1,1.05)" font-size="15" font-weight="bold" fill="#000" stroke="#000" stroke-width="0.4">H</text>
<line x1="320" y1="387.5" x2="320" y2="515.5" stroke="#000" stroke-width="2" stroke-linecap="butt"/>
<line x1="315.5" y1="514.5" x2="320" y2="514.5" stroke="#000" stroke-width="1.6" stroke-linecap="butt"/>
<text x="312.85" y="518.04" font-size="9.9" text-anchor="end" fill="#3a3a3a" letter-spacing="0.45">0</text>
<line x1="315.5" y1="473.4" x2="320" y2="473.4" stroke="#000" stroke-width="1.6" stroke-linecap="butt"/>
<text x="312.85" y="476.94" font-size="9.9" text-anchor="end" fill="#3a3a3a" letter-spacing="0.45">5</text>
<line x1="315.5" y1="432.3" x2="320" y2="432.3" stroke="#000" stroke-width="1.6" stroke-linecap="butt"/>
<text x="312.85" y="435.84" font-size="9.9" text-anchor="end" fill="#3a3a3a" letter-spacing="0.45">10</text>
<line x1="315.5" y1="391.2" x2="320" y2="391.2" stroke="#000" stroke-width="1.6" stroke-linecap="butt"/>
<text x="312.85" y="394.74" font-size="9.9" text-anchor="end" fill="#3a3a3a" letter-spacing="0.45">15</text>
<line x1="315.5" y1="514.5" x2="505.5" y2="514.5" stroke="#000" stroke-width="2" stroke-linecap="butt"/>
<line x1="366.3" y1="514.5" x2="366.3" y2="518.5" stroke="#000" stroke-width="1.6" stroke-linecap="butt"/>
<line x1="459" y1="514.5" x2="459" y2="518.5" stroke="#000" stroke-width="1.6" stroke-linecap="butt"/>
<circle cx="366.2" cy="415.86" r="2.55" fill="#950d38" stroke="#6e0828" stroke-width="0.7"/>
<circle cx="366.2" cy="424.08" r="2.55" fill="#950d38" stroke="#6e0828" stroke-width="0.7"/>
<circle cx="366.2" cy="432.3" r="2.55" fill="#950d38" stroke="#6e0828" stroke-width="0.7"/>
<circle cx="366.2" cy="440.52" r="2.55" fill="#950d38" stroke="#6e0828" stroke-width="0.7"/>
<circle cx="362.3" cy="448.74" r="2.55" fill="#950d38" stroke="#6e0828" stroke-width="0.7"/>
<circle cx="370" cy="448.74" r="2.55" fill="#950d38" stroke="#6e0828" stroke-width="0.7"/>
<circle cx="358.5" cy="456.96" r="2.55" fill="#950d38" stroke="#6e0828" stroke-width="0.7"/>
<circle cx="366.2" cy="456.96" r="2.55" fill="#950d38" stroke="#6e0828" stroke-width="0.7"/>
<circle cx="373.8" cy="456.96" r="2.55" fill="#950d38" stroke="#6e0828" stroke-width="0.7"/>
<circle cx="362.3" cy="465.18" r="2.55" fill="#950d38" stroke="#6e0828" stroke-width="0.7"/>
<circle cx="370" cy="465.18" r="2.55" fill="#950d38" stroke="#6e0828" stroke-width="0.7"/>
<circle cx="366.2" cy="498.06" r="2.55" fill="#950d38" stroke="#6e0828" stroke-width="0.7"/>
<circle cx="366.2" cy="514.5" r="2.55" fill="#950d38" stroke="#6e0828" stroke-width="0.7"/>
<circle cx="458.8" cy="407.64" r="2.4" fill="#fff" stroke="#5a9a36" stroke-width="1.4"/>
<circle cx="455" cy="448.74" r="2.4" fill="#fff" stroke="#5a9a36" stroke-width="1.4"/>
<circle cx="462.6" cy="448.74" r="2.4" fill="#fff" stroke="#5a9a36" stroke-width="1.4"/>
<circle cx="459" cy="456.96" r="2.4" fill="#fff" stroke="#5a9a36" stroke-width="1.4"/>
<circle cx="459" cy="498.06" r="2.4" fill="#fff" stroke="#5a9a36" stroke-width="1.4"/>
<circle cx="455" cy="506.28" r="2.4" fill="#fff" stroke="#5a9a36" stroke-width="1.4"/>
<circle cx="462.6" cy="506.28" r="2.4" fill="#fff" stroke="#5a9a36" stroke-width="1.4"/>
<circle cx="436.5" cy="514.5" r="2.4" fill="#fff" stroke="#5a9a36" stroke-width="1.4"/>
<circle cx="444" cy="514.5" r="2.4" fill="#fff" stroke="#5a9a36" stroke-width="1.4"/>
<circle cx="451.5" cy="514.5" r="2.4" fill="#fff" stroke="#5a9a36" stroke-width="1.4"/>
<circle cx="459" cy="514.5" r="2.4" fill="#fff" stroke="#5a9a36" stroke-width="1.4"/>
<circle cx="466.5" cy="514.5" r="2.4" fill="#fff" stroke="#5a9a36" stroke-width="1.4"/>
<circle cx="474" cy="514.5" r="2.4" fill="#fff" stroke="#5a9a36" stroke-width="1.4"/>
<circle cx="481.5" cy="514.5" r="2.4" fill="#fff" stroke="#5a9a36" stroke-width="1.4"/>
<line x1="335.3" y1="456.96" x2="397.3" y2="456.96" stroke="#000" stroke-width="2" stroke-linecap="butt"/>
<line x1="428.3" y1="490.99" x2="489.8" y2="490.99" stroke="#000" stroke-width="2" stroke-linecap="butt"/>
<text x="366.3" y="531.3" font-size="10.3" text-anchor="middle" fill="#3a3a3a">WT</text>
<text x="458.7" y="531.3" font-size="10.3" text-anchor="middle" font-style="italic" fill="#3a3a3a" textLength="30.7" lengthAdjust="spacingAndGlyphs">Plaur-/-</text>
<text transform="translate(293.4,451.1) rotate(-90)" font-size="12.2" text-anchor="middle" font-weight="bold" fill="#111" textLength="79.8" lengthAdjust="spacingAndGlyphs">Arthritis index day 42</text>
<text x="391.6" y="401.2" font-size="9.1" font-style="italic">P</text>
<polyline points="406.3,394.7 400.2,398 406.3,401.3" fill="none" stroke="#2a2a2a" stroke-width="0.95"/>
<text x="409.5" y="401.2" font-size="9.1">0.05</text>
<text transform="translate(8.7,739.7) scale(1,1.05)" font-size="15" font-weight="bold" fill="#000" stroke="#000" stroke-width="0.4">E</text>
<line x1="60" y1="741.3" x2="60" y2="870.1" stroke="#000" stroke-width="2" stroke-linecap="butt"/>
<line x1="55.5" y1="869.1" x2="60" y2="869.1" stroke="#000" stroke-width="1.6" stroke-linecap="butt"/>
<text x="52.85" y="872.64" font-size="9.9" text-anchor="end" fill="#3a3a3a" letter-spacing="0.45">0</text>
<line x1="55.5" y1="844.42" x2="60" y2="844.42" stroke="#000" stroke-width="1.6" stroke-linecap="butt"/>
<text x="52.85" y="847.96" font-size="9.9" text-anchor="end" fill="#3a3a3a" letter-spacing="0.45">2</text>
<line x1="55.5" y1="819.74" x2="60" y2="819.74" stroke="#000" stroke-width="1.6" stroke-linecap="butt"/>
<text x="52.85" y="823.28" font-size="9.9" text-anchor="end" fill="#3a3a3a" letter-spacing="0.45">4</text>
<line x1="55.5" y1="795.06" x2="60" y2="795.06" stroke="#000" stroke-width="1.6" stroke-linecap="butt"/>
<text x="52.85" y="798.6" font-size="9.9" text-anchor="end" fill="#3a3a3a" letter-spacing="0.45">6</text>
<line x1="55.5" y1="770.38" x2="60" y2="770.38" stroke="#000" stroke-width="1.6" stroke-linecap="butt"/>
<text x="52.85" y="773.92" font-size="9.9" text-anchor="end" fill="#3a3a3a" letter-spacing="0.45">8</text>
<line x1="55.5" y1="745.7" x2="60" y2="745.7" stroke="#000" stroke-width="1.6" stroke-linecap="butt"/>
<text x="52.85" y="749.24" font-size="9.9" text-anchor="end" fill="#3a3a3a" letter-spacing="0.45">10</text>
<line x1="55.5" y1="869.1" x2="245.5" y2="869.1" stroke="#000" stroke-width="2" stroke-linecap="butt"/>
<line x1="106.3" y1="869.1" x2="106.3" y2="873.1" stroke="#000" stroke-width="1.6" stroke-linecap="butt"/>
<line x1="199" y1="869.1" x2="199" y2="873.1" stroke="#000" stroke-width="1.6" stroke-linecap="butt"/>
<circle cx="102.3" cy="770.38" r="2.55" fill="#950d38" stroke="#6e0828" stroke-width="0.7"/>
<circle cx="110" cy="770.38" r="2.55" fill="#950d38" stroke="#6e0828" stroke-width="0.7"/>
<circle cx="102.3" cy="795.06" r="2.55" fill="#950d38" stroke="#6e0828" stroke-width="0.7"/>
<circle cx="110" cy="795.06" r="2.55" fill="#950d38" stroke="#6e0828" stroke-width="0.7"/>
<circle cx="102.3" cy="807.4" r="2.55" fill="#950d38" stroke="#6e0828" stroke-width="0.7"/>
<circle cx="110" cy="807.4" r="2.55" fill="#950d38" stroke="#6e0828" stroke-width="0.7"/>
<circle cx="91.5" cy="819.74" r="2.55" fill="#950d38" stroke="#6e0828" stroke-width="0.7"/>
<circle cx="98.9" cy="819.74" r="2.55" fill="#950d38" stroke="#6e0828" stroke-width="0.7"/>
<circle cx="106.3" cy="819.74" r="2.55" fill="#950d38" stroke="#6e0828" stroke-width="0.7"/>
<circle cx="113.8" cy="819.74" r="2.55" fill="#950d38" stroke="#6e0828" stroke-width="0.7"/>
<circle cx="121.4" cy="819.74" r="2.55" fill="#950d38" stroke="#6e0828" stroke-width="0.7"/>
<circle cx="98.9" cy="832.08" r="2.55" fill="#950d38" stroke="#6e0828" stroke-width="0.7"/>
<circle cx="106.3" cy="832.08" r="2.55" fill="#950d38" stroke="#6e0828" stroke-width="0.7"/>
<circle cx="113.8" cy="832.08" r="2.55" fill="#950d38" stroke="#6e0828" stroke-width="0.7"/>
<circle cx="106.3" cy="844.42" r="2.55" fill="#950d38" stroke="#6e0828" stroke-width="0.7"/>
<circle cx="106.3" cy="869.1" r="2.55" fill="#950d38" stroke="#6e0828" stroke-width="0.7"/>
<circle cx="198.8" cy="807.4" r="2.4" fill="#fff" stroke="#243d63" stroke-width="1.4"/>
<circle cx="195.2" cy="856.76" r="2.4" fill="#fff" stroke="#243d63" stroke-width="1.4"/>
<circle cx="202.4" cy="856.76" r="2.4" fill="#fff" stroke="#243d63" stroke-width="1.4"/>
<circle cx="172.7" cy="869.1" r="2.4" fill="#fff" stroke="#243d63" stroke-width="1.4"/>
<circle cx="180.23" cy="869.1" r="2.4" fill="#fff" stroke="#243d63" stroke-width="1.4"/>
<circle cx="187.76" cy="869.1" r="2.4" fill="#fff" stroke="#243d63" stroke-width="1.4"/>
<circle cx="195.29" cy="869.1" r="2.4" fill="#fff" stroke="#243d63" stroke-width="1.4"/>
<circle cx="202.82" cy="869.1" r="2.4" fill="#fff" stroke="#243d63" stroke-width="1.4"/>
<circle cx="210.35" cy="869.1" r="2.4" fill="#fff" stroke="#243d63" stroke-width="1.4"/>
<circle cx="217.88" cy="869.1" r="2.4" fill="#fff" stroke="#243d63" stroke-width="1.4"/>
<circle cx="225.41" cy="869.1" r="2.4" fill="#fff" stroke="#243d63" stroke-width="1.4"/>
<line x1="75.3" y1="819.74" x2="137.3" y2="819.74" stroke="#000" stroke-width="2" stroke-linecap="butt"/>
<line x1="168.3" y1="861.33" x2="229.8" y2="861.33" stroke="#000" stroke-width="2" stroke-linecap="butt"/>
<text x="106.3" y="886.1" font-size="10.3" text-anchor="middle" fill="#3a3a3a">WT</text>
<text x="198.7" y="886.1" font-size="10.3" text-anchor="middle" font-style="italic" fill="#3a3a3a" textLength="27.6" lengthAdjust="spacingAndGlyphs">Plau-/-</text>
<text transform="translate(33.4,805.3) rotate(-90)" font-size="12.2" text-anchor="middle" font-weight="bold" fill="#111" textLength="87.4" lengthAdjust="spacingAndGlyphs">Arthritis severity day 42</text>
<text x="136.2" y="760.2" font-size="9.1" font-style="italic">P</text>
<polyline points="150.9,753.7 144.8,757 150.9,760.3" fill="none" stroke="#2a2a2a" stroke-width="0.95"/>
<text x="154.1" y="760.2" font-size="9.1">0.0001</text>
<text transform="translate(270.7,739.7) scale(1,1.05)" font-size="15" font-weight="bold" fill="#000" stroke="#000" stroke-width="0.4">J</text>
<line x1="320" y1="741.3" x2="320" y2="870.2" stroke="#000" stroke-width="2" stroke-linecap="butt"/>
<line x1="315.5" y1="869.2" x2="320" y2="869.2" stroke="#000" stroke-width="1.6" stroke-linecap="butt"/>
<text x="312.85" y="872.74" font-size="9.9" text-anchor="end" fill="#3a3a3a" letter-spacing="0.45">0</text>
<line x1="315.5" y1="838.3" x2="320" y2="838.3" stroke="#000" stroke-width="1.6" stroke-linecap="butt"/>
<text x="312.85" y="841.84" font-size="9.9" text-anchor="end" fill="#3a3a3a" letter-spacing="0.45">2</text>
<line x1="315.5" y1="807.4" x2="320" y2="807.4" stroke="#000" stroke-width="1.6" stroke-linecap="butt"/>
<text x="312.85" y="810.94" font-size="9.9" text-anchor="end" fill="#3a3a3a" letter-spacing="0.45">4</text>
<line x1="315.5" y1="776.5" x2="320" y2="776.5" stroke="#000" stroke-width="1.6" stroke-linecap="butt"/>
<text x="312.85" y="780.04" font-size="9.9" text-anchor="end" fill="#3a3a3a" letter-spacing="0.45">6</text>
<line x1="315.5" y1="745.6" x2="320" y2="745.6" stroke="#000" stroke-width="1.6" stroke-linecap="butt"/>
<text x="312.85" y="749.14" font-size="9.9" text-anchor="end" fill="#3a3a3a" letter-spacing="0.45">8</text>
<line x1="315.5" y1="869.2" x2="505.5" y2="869.2" stroke="#000" stroke-width="2" stroke-linecap="butt"/>
<line x1="366.3" y1="869.2" x2="366.3" y2="873.2" stroke="#000" stroke-width="1.6" stroke-linecap="butt"/>
<line x1="459" y1="869.2" x2="459" y2="873.2" stroke="#000" stroke-width="1.6" stroke-linecap="butt"/>
<circle cx="366.2" cy="776.5" r="2.55" fill="#950d38" stroke="#6e0828" stroke-width="0.7"/>
<circle cx="366.2" cy="791.95" r="2.55" fill="#950d38" stroke="#6e0828" stroke-width="0.7"/>
<circle cx="343.7" cy="807.4" r="2.55" fill="#950d38" stroke="#6e0828" stroke-width="0.7"/>
<circle cx="351.2" cy="807.4" r="2.55" fill="#950d38" stroke="#6e0828" stroke-width="0.7"/>
<circle cx="358.7" cy="807.4" r="2.55" fill="#950d38" stroke="#6e0828" stroke-width="0.7"/>
<circle cx="366.2" cy="807.4" r="2.55" fill="#950d38" stroke="#6e0828" stroke-width="0.7"/>
<circle cx="373.7" cy="807.4" r="2.55" fill="#950d38" stroke="#6e0828" stroke-width="0.7"/>
<circle cx="381.2" cy="807.4" r="2.55" fill="#950d38" stroke="#6e0828" stroke-width="0.7"/>
<circle cx="388.7" cy="807.4" r="2.55" fill="#950d38" stroke="#6e0828" stroke-width="0.7"/>
<circle cx="366.2" cy="822.85" r="2.55" fill="#950d38" stroke="#6e0828" stroke-width="0.7"/>
<circle cx="366.2" cy="838.3" r="2.55" fill="#950d38" stroke="#6e0828" stroke-width="0.7"/>
<circle cx="366.2" cy="853.75" r="2.55" fill="#950d38" stroke="#6e0828" stroke-width="0.7"/>
<circle cx="366.2" cy="869.2" r="2.55" fill="#950d38" stroke="#6e0828" stroke-width="0.7"/>
<circle cx="458.8" cy="761.05" r="2.4" fill="#fff" stroke="#5a9a36" stroke-width="1.4"/>
<circle cx="458.8" cy="807.4" r="2.4" fill="#fff" stroke="#5a9a36" stroke-width="1.4"/>
<circle cx="455.2" cy="838.3" r="2.4" fill="#fff" stroke="#5a9a36" stroke-width="1.4"/>
<circle cx="462.4" cy="838.3" r="2.4" fill="#fff" stroke="#5a9a36" stroke-width="1.4"/>
<circle cx="459" cy="853.75" r="2.4" fill="#fff" stroke="#5a9a36" stroke-width="1.4"/>
<circle cx="431.5" cy="869.2" r="2.4" fill="#fff" stroke="#5a9a36" stroke-width="1.4"/>
<circle cx="438.35" cy="869.2" r="2.4" fill="#fff" stroke="#5a9a36" stroke-width="1.4"/>
<circle cx="445.2" cy="869.2" r="2.4" fill="#fff" stroke="#5a9a36" stroke-width="1.4"/>
<circle cx="452.05" cy="869.2" r="2.4" fill="#fff" stroke="#5a9a36" stroke-width="1.4"/>
<circle cx="458.9" cy="869.2" r="2.4" fill="#fff" stroke="#5a9a36" stroke-width="1.4"/>
<circle cx="465.75" cy="869.2" r="2.4" fill="#fff" stroke="#5a9a36" stroke-width="1.4"/>
<circle cx="472.6" cy="869.2" r="2.4" fill="#fff" stroke="#5a9a36" stroke-width="1.4"/>
<circle cx="479.45" cy="869.2" r="2.4" fill="#fff" stroke="#5a9a36" stroke-width="1.4"/>
<circle cx="486.3" cy="869.2" r="2.4" fill="#fff" stroke="#5a9a36" stroke-width="1.4"/>
<line x1="335.3" y1="807.4" x2="397.3" y2="807.4" stroke="#000" stroke-width="2" stroke-linecap="butt"/>
<line x1="428.3" y1="852.21" x2="489.8" y2="852.21" stroke="#000" stroke-width="2" stroke-linecap="butt"/>
<text x="366.3" y="886.1" font-size="10.3" text-anchor="middle" fill="#3a3a3a">WT</text>
<text x="458.7" y="886.1" font-size="10.3" text-anchor="middle" font-style="italic" fill="#3a3a3a" textLength="30.7" lengthAdjust="spacingAndGlyphs">Plaur-/-</text>
<text transform="translate(298.8,805.3) rotate(-90)" font-size="12.2" text-anchor="middle" font-weight="bold" fill="#111" textLength="87.4" lengthAdjust="spacingAndGlyphs">Arthritis severity day 42</text>
<text x="391.2" y="753.2" font-size="9.1" font-style="italic">P</text>
<polyline points="405.9,746.7 399.8,750 405.9,753.3" fill="none" stroke="#2a2a2a" stroke-width="0.95"/>
<text x="409.1" y="753.2" font-size="9.1">0.01</text>
</svg>
</body></html>
